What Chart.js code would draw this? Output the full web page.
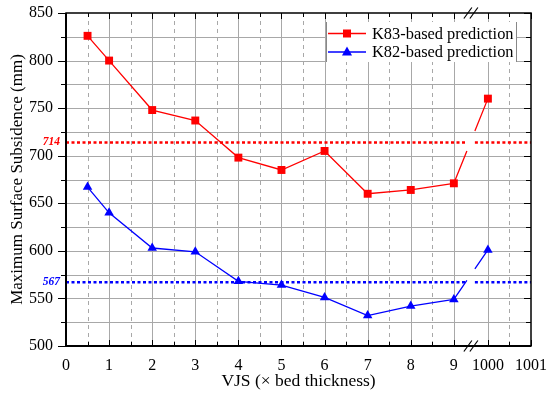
<!DOCTYPE html>
<html>
<head>
<meta charset="utf-8">
<script src="https://cdn.jsdelivr.net/npm/chart.js@4.4.1/dist/chart.umd.min.js"></script>
<style>
  html, body { margin: 0; padding: 0; background: #fff; }
</style>
</head>
<body>
<canvas id="chart" width="550" height="393"></canvas>
<script>
// VJS values (x bed thickness); the last one sits past the axis break
const vjs = [0.5, 1, 2, 3, 4, 5, 6, 7, 8, 9, 1000];
const k83 = [826, 800, 748, 737, 698, 685, 705, 660, 664, 671, 760];
const k82 = [667, 640, 603, 599, 568, 564, 551, 532, 542, 549, 601];
const k83Ref = 714;
const k82Ref = 567;
const xTickValues = [0, 1, 2, 3, 4, 5, 6, 7, 8, 9, 1000, 1001];
const xTickLabels = ["0", "1", "2", "3", "4", "5", "6", "7", "8", "9", "1000", "1001"];

const FONT = "'Liberation Serif', 'Times New Roman', serif";

// broken axis: 1000 is drawn right after 9
const AFTER_BREAK = 9.79;
const breakPos = (9 + AFTER_BREAK) / 2;
const GAP = 4;
function pos(v) {
  return v <= 9.5 ? v : v - 1000 + AFTER_BREAK;
}

function breakDash(ctx) {
  if (ctx.p1DataIndex !== vjs.length - 1) return undefined;
  const bx = ctx.chart.scales.x.getPixelForValue(breakPos);
  const p0 = ctx.p0, p1 = ctx.p1;
  const dx = p1.x - p0.x, dy = p1.y - p0.y;
  const len = Math.hypot(dx, dy);
  const t1 = (bx - GAP - p0.x) / dx;
  const t2 = (bx + GAP - p0.x) / dx;
  return [t1 * len, (t2 - t1) * len, len];
}

function line(ctx, x1, y1, x2, y2) {
  ctx.beginPath();
  ctx.moveTo(x1, y1);
  ctx.lineTo(x2, y2);
  ctx.stroke();
}

function marker(ctx, style, x, y, color) {
  ctx.fillStyle = color;
  ctx.beginPath();
  if (style === "rect") {
    ctx.rect(x - 4, y - 4, 8, 8);
  } else {
    ctx.moveTo(x, y - 5.5);
    ctx.lineTo(x + 5, y + 3.5);
    ctx.lineTo(x - 5, y + 3.5);
    ctx.closePath();
  }
  ctx.fill();
}

function noOverflow(s) {
  s.paddingLeft = 0;
  s.paddingRight = 0;
  s.paddingTop = 0;
  s.paddingBottom = 0;
}

const decor = {
  id: "decor",
  beforeDatasetsDraw(chart) {
    const { ctx, chartArea: a, scales: { x, y } } = chart;
    ctx.save();
    ctx.strokeStyle = "#a8a8a8";
    ctx.lineWidth = 1;
    // horizontal grid every 25
    y.ticks.forEach(t => {
      if (t.value <= y.min || t.value >= y.max) return;
      const py = Math.round(y.getPixelForValue(t.value)) + 0.5;
      line(ctx, a.left, py, a.right, py);
    });
    // vertical grid: solid on ticks, dashed half way
    const tv = x.ticks.map(t => t.value);
    tv.forEach(v => {
      if (v <= x.min || v >= x.max) return;
      const px = Math.round(x.getPixelForValue(v)) + 0.5;
      line(ctx, px, a.top, px, a.bottom);
    });
    ctx.setLineDash([4, 4]);
    for (let i = 0; i < tv.length - 1; i++) {
      if (tv[i] === 9) continue;
      const px = Math.round(x.getPixelForValue((tv[i] + tv[i + 1]) / 2)) + 0.5;
      line(ctx, px, a.top, px, a.bottom);
    }
    // reference lines with a gap at the break
    const bx = x.getPixelForValue(breakPos);
    ctx.setLineDash([3, 2.5]);
    ctx.lineWidth = 2.5;
    [[k83Ref, "#ff0000"], [k82Ref, "#0000ff"]].forEach(([v, c]) => {
      const py = y.getPixelForValue(v);
      ctx.strokeStyle = c;
      line(ctx, a.left, py, bx - GAP, py);
      line(ctx, bx + GAP, py, a.right, py);
    });
    ctx.restore();
  },
  afterDatasetsDraw(chart) {
    const { ctx, chartArea: a, scales: { x, y } } = chart;
    ctx.save();
    ctx.strokeStyle = "#000";
    // ticks
    ctx.lineWidth = 1;
    y.ticks.forEach(t => {
      const py = Math.round(y.getPixelForValue(t.value)) + 0.5;
      const major = t.value % 50 === 0;
      line(ctx, a.left - (major ? 8 : 5), py, a.left, py);
      line(ctx, a.right - (major ? 7 : 5), py, a.right, py);
    });
    const tv = x.ticks.map(t => t.value);
    const xs = tv.slice();
    for (let i = 0; i < tv.length - 1; i++) {
      if (tv[i] !== 9) xs.push((tv[i] + tv[i + 1]) / 2);
    }
    xs.forEach(v => {
      const px = Math.round(x.getPixelForValue(v)) + 0.5;
      const major = tv.includes(v);
      line(ctx, px, a.top, px, a.top + (major ? 6 : 4));
      line(ctx, px, a.bottom, px, a.bottom - (major ? 6 : 4));
    });
    // frame
    ctx.lineWidth = 1.5;
    ctx.strokeRect(a.left, a.top, a.right - a.left, a.bottom - a.top);
    ctx.lineWidth = 2;
    line(ctx, a.left, a.top, a.left, a.bottom + 1);
    line(ctx, a.left - 1, a.bottom, a.right, a.bottom);
    // break marks
    const bx = x.getPixelForValue(breakPos);
    ctx.lineWidth = 1.2;
    [a.top, a.bottom].forEach(ey => {
      [-3, 3].forEach(o => line(ctx, bx + o - 4, ey + 5.5, bx + o + 4, ey - 5.5));
    });
    // reference labels
    ctx.font = "italic bold 11.5px " + FONT;
    ctx.textAlign = "right";
    ctx.textBaseline = "middle";
    ctx.fillStyle = "#ff0000";
    ctx.fillText(String(k83Ref), a.left - 6, y.getPixelForValue(k83Ref));
    ctx.fillStyle = "#0000ff";
    ctx.fillText(String(k82Ref), a.left - 6, y.getPixelForValue(k82Ref));
    // legend
    const lx = 326, ly = 22, lw = 190, lh = 40;
    ctx.fillStyle = "#fff";
    ctx.fillRect(lx, ly, lw, lh);
    ctx.strokeStyle = "#888";
    ctx.lineWidth = 1;
    line(ctx, lx + 0.5, ly, lx + 0.5, ly + lh);
    line(ctx, lx + lw + 0.5, ly, lx + lw + 0.5, ly + lh);
    ctx.font = "16.4px " + FONT;
    ctx.textAlign = "left";
    chart.data.datasets.forEach((ds, i) => {
      const ry = ly + 11.5 + i * 18.5;
      ctx.strokeStyle = ds.borderColor;
      ctx.lineWidth = 1.3;
      line(ctx, lx + 2, ry, lx + 40, ry);
      marker(ctx, ds.pointStyle, lx + 21, ry, ds.borderColor);
      ctx.fillStyle = "#000";
      ctx.fillText(ds.label, lx + 46, ry + 1);
    });
    ctx.restore();
  }
};

new Chart(document.getElementById("chart"), {
  type: "line",
  data: {
    datasets: [
      {
        label: "K83-based prediction",
        data: vjs.map((v, i) => ({ x: pos(v), y: k83[i] })),
        borderColor: "#ff0000",
        backgroundColor: "#ff0000",
        borderWidth: 1.3,
        pointStyle: "rect",
        pointRadius: 5.6,
        pointBorderWidth: 0,
        segment: { borderDash: breakDash }
      },
      {
        label: "K82-based prediction",
        data: vjs.map((v, i) => ({ x: pos(v), y: k82[i] })),
        borderColor: "#0000ff",
        backgroundColor: "#0000ff",
        borderWidth: 1.3,
        pointStyle: "triangle",
        pointRadius: 5.5,
        pointBorderWidth: 0,
        segment: { borderDash: breakDash }
      }
    ]
  },
  options: {
    responsive: false,
    animation: false,
    layout: { padding: { left: 0, right: 19, top: 13, bottom: 0 } },
    plugins: { legend: { display: false }, tooltip: { enabled: false } },
    scales: {
      x: {
        type: "linear",
        min: 0,
        max: pos(1001),
        afterBuildTicks: s => { s.ticks = xTickValues.map(v => ({ value: pos(v) })); },
        afterFit: s => { s.height = 47; noOverflow(s); },
        grid: { display: false, drawTicks: false },
        border: { display: false },
        ticks: {
          autoSkip: false,
          maxRotation: 0,
          padding: 10,
          color: "#000",
          font: { family: FONT, size: 16 },
          callback: (v, i) => xTickLabels[i]
        },
        title: {
          display: true,
          text: "VJS (× bed thickness)",
          color: "#000",
          font: { family: FONT, size: 17.5 },
          padding: { top: 0, bottom: 1 }
        }
      },
      y: {
        min: 500,
        max: 850,
        afterFit: s => { s.width = 66; noOverflow(s); },
        grid: { display: false, drawTicks: false },
        border: { display: false },
        ticks: {
          stepSize: 25,
          padding: 13,
          color: "#000",
          font: { family: FONT, size: 16 },
          callback: v => (v % 50 === 0 ? v : "")
        },
        title: {
          display: true,
          text: "Maximum Surface Subsidence (mm)",
          color: "#000",
          font: { family: FONT, size: 17 },
          padding: { top: 7, bottom: 0 }
        }
      }
    }
  },
  plugins: [decor]
});
</script>
</body>
</html>
